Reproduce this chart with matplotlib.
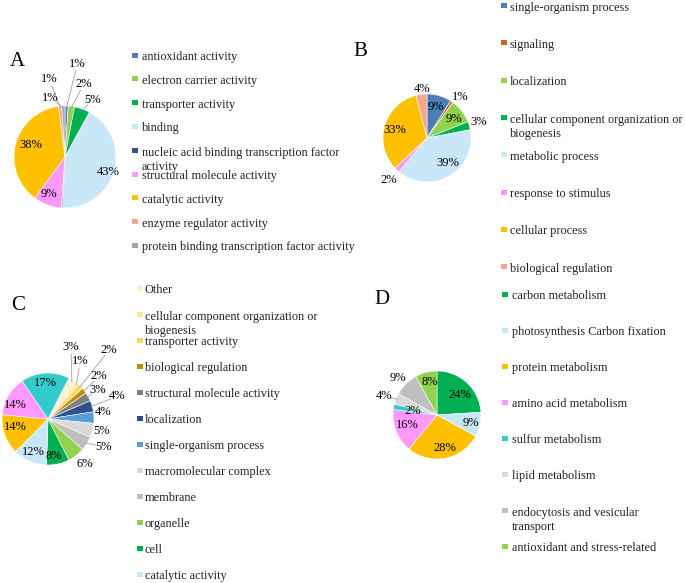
# GO pie charts, panels A-D
import matplotlib.pyplot as plt
import numpy as np
from matplotlib.patches import Rectangle

plt.rcParams['font.family'] = ['Liberation Serif', 'DejaVu Serif']

W, H = 685, 583

# ---- data ----
a_names = ["antioxidant activity", "electron carrier activity", "transporter activity",
           "binding", "nucleic acid binding transcription factor\nactivity",
           "structural molecule activity", "catalytic activity",
           "enzyme regulator activity", "protein binding transcription factor activity"]
a_vals = [1, 2, 5, 43, 0.4, 9, 38, 1, 1]
a_colors = ['#4A7EBB', '#92D050', '#00B050', '#C9E7F8', '#2F5597', '#FF99FF',
            '#FFC000', '#F4A58C', '#A6A6A6']

b_names = ["single-organism process", "signaling", "localization",
           "cellular component organization or\nbiogenesis", "metabolic process",
           "response to stimulus", "cellular process", "biological regulation"]
b_vals = [9, 1, 9, 3, 39, 2, 33, 4]
b_colors = ['#4A7EBB', '#C8652B', '#92D050', '#00B050', '#C9E7F8', '#FF99FF',
            '#FFC000', '#F4A58C']

c_names = ["Other", "cellular component organization or\nbiogenesis", "transporter activity",
           "biological regulation", "structural molecule activity", "localization",
           "single-organism process", "macromolecular complex", "membrane", "organelle",
           "cell", "catalytic activity", "binding", "cellular process", "metabolic process"]
c_vals = [3, 1, 2, 2, 3, 4, 4, 5, 5, 6, 8, 12, 14, 14, 17]
c_colors = ['#FFF2CC', '#FFE699', '#FFD966', '#BF9000', '#7F7F7F', '#2E4F8F',
            '#5B9BD5', '#D9D9D9', '#BFBFBF', '#92D050', '#00B050', '#C9E7F8',
            '#FFC000', '#FF99FF', '#33CCCC']
c_shown = 12  # legend is cut off after this many entries

d_names = ["carbon metabolism", "photosynthesis Carbon fixation", "protein metabolism",
           "amino acid metabolism", "sulfur metabolism", "lipid metabolism",
           "endocytosis and vesicular\ntransport", "antioxidant and stress-related"]
d_vals = [24, 9, 28, 16, 2, 4, 9, 8]
d_colors = ['#00B050', '#C9E7F8', '#FFC000', '#FF99FF', '#33CCCC', '#D9D9D9',
            '#BFBFBF', '#92D050']

# ---- label spots (pie radii from centre, leader line flag) ----
a_spots = [(0.24, 1.82, True), (0.37, 1.43, True), (0.55, 1.12, True), (0.84, -0.29, False),
           None, (-0.31, -0.73, False), (-0.67, 0.24, False), (-0.31, 1.53, True),
           (-0.29, 1.16, True)]
b_spots = [(0.2, 0.70, False), (0.75, 0.93, False), (0.61, 0.43, False), (1.18, 0.36, False),
           (0.48, -0.57, False), (-0.86, -0.95, False), (-0.73, 0.18, False),
           (-0.11, 1.11, False)]
c_spots = [(0.5, 1.57, True), (0.7, 1.26, True), (1.33, 1.5, True), (1.11, 0.93, True),
           (1.07, 0.64, True), (1.51, 0.49, True), (1.2, 0.15, False), (1.16, -0.27, False),
           (1.2, -0.6, True), (0.79, -0.97, False), (0.12, -0.8, False), (-0.32, -0.71, False),
           (-0.72, -0.18, False), (-0.72, 0.3, False), (-0.05, 0.78, False)]
d_spots = [(0.52, 0.45, False), (0.77, -0.18, False), (0.18, -0.75, False),
           (-0.68, -0.23, False), (-0.55, 0.09, False), (-1.2, 0.43, True),
           (-0.89, 0.84, False), (-0.16, 0.75, False)]

LEG_FS = 8.8
LEG_LS = 1.2
LINE_PX = LEG_FS * 100 / 72 * LEG_LS


def draw_pie(ax, vals, colors, cx, cy, r, start, spots):
    cy = H - cy
    wedges, _ = ax.pie(vals, colors=colors, startangle=start, counterclock=False,
                       center=(cx, cy), radius=r,
                       wedgeprops=dict(edgecolor='white', linewidth=0.4))
    for w, v, spot in zip(wedges, vals, spots):
        if spot is None:
            continue
        sx, sy, line = spot
        lx, ly = cx + sx * r, cy + sy * r
        if line:
            mid = np.deg2rad((w.theta1 + w.theta2) / 2)
            ex, ey = cx + 0.97 * r * np.cos(mid), cy + 0.97 * r * np.sin(mid)
            d = np.hypot(ex - lx, ey - ly)
            sx0, sy0 = lx + (ex - lx) / d * 7, ly + (ey - ly) / d * 7
            ax.plot([sx0, ex], [sy0, ey], color='#A0A0A0', lw=0.6)
        ax.text(lx, ly, f"{v:.0f}%", ha='center', va='center', fontsize=9)


def draw_legend(ax, names, colors, xm, xt, y0, dy):
    for i, (n, c) in enumerate(zip(names, colors)):
        y = H - (y0 + i * dy)
        ax.add_patch(Rectangle((xm - 3, y - 2.5), 6, 5, color=c, lw=0))
        extra = n.count('\n') * LINE_PX
        ax.text(xt, y - 5 - extra, n, ha='left', va='baseline', fontsize=LEG_FS,
                linespacing=LEG_LS, color='#222222')


fig = plt.figure(figsize=(W / 100, H / 100), dpi=100)
ax = fig.add_axes([0, 0, 1, 1])

draw_pie(ax, a_vals, a_colors, 65, 157, 51, 90, a_spots)
draw_pie(ax, b_vals, b_colors, 427, 138, 44, 90, b_spots)
draw_pie(ax, c_vals, c_colors, 48, 419, 46, 63, c_spots)
draw_pie(ax, d_vals, d_colors, 437, 415, 44, 90, d_spots)

draw_legend(ax, a_names, a_colors, 135, 142, 55, 23.8)
draw_legend(ax, b_names, b_colors, 504.5, 510, 5.5, 37.3)
draw_legend(ax, c_names[:c_shown], c_colors[:c_shown], 140.5, 145, 288, 26.0)
draw_legend(ax, d_names, d_colors, 505.5, 512, 294, 36.0)

for letter, (x, y) in zip("ABCD", [(17, 62), (360, 52), (18, 305), (382, 300)]):
    ax.text(x, H - y, letter, ha='center', va='center', fontsize=15)

ax.set_xlim(0, W)
ax.set_ylim(0, H)
ax.set_aspect('auto')
ax.axis('off')

fig.savefig('out.png', dpi=100)
